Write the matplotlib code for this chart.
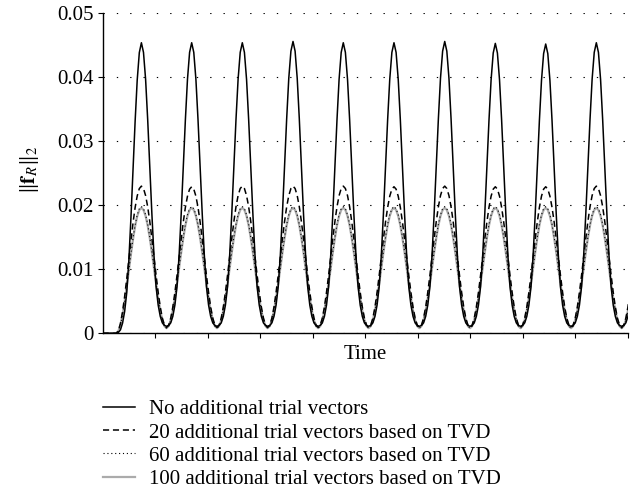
import numpy as np
import matplotlib
matplotlib.use("Agg")
import matplotlib.pyplot as plt

plt.rcParams['font.family'] = ['Liberation Serif', 'DejaVu Serif']
plt.rcParams['mathtext.fontset'] = 'stix'

# ---- data ----
series_labels = [
    "No additional trial vectors",
    "20 additional trial vectors based on TVD",
    "60 additional trial vectors based on TVD",
    "100 additional trial vectors based on TVD",
]
# times of the peaks (last one lies beyond the axis end and is clipped)
peak_times = [0.737, 1.694, 2.658, 3.623, 4.580, 5.545, 6.511, 7.474, 8.433, 9.397, 10.36]
peaks_none = [0.0454, 0.0454, 0.0454, 0.0456, 0.0454, 0.0454, 0.0456, 0.0453, 0.0452, 0.0454, 0.0454]
peaks_20 = [0.0230, 0.0229, 0.0230, 0.0230, 0.0230, 0.0229, 0.0230, 0.0229, 0.0229, 0.0230, 0.0230]
peaks_60 = [0.0198, 0.0198, 0.0198, 0.0198, 0.0198, 0.0198, 0.0198, 0.0198, 0.0198, 0.0198, 0.0198]
peaks_100 = [0.0196, 0.0196, 0.0196, 0.0196, 0.0196, 0.0196, 0.0196, 0.0196, 0.0196, 0.0196, 0.0196]
# minima before each peak (first one is the start at rest)
troughs_none = [0.0, 0.0011, 0.0011, 0.0011, 0.0011, 0.0011, 0.0011, 0.0011, 0.0011, 0.0011, 0.0011, 0.0011]
troughs_20 = [0.0, 0.0009, 0.0009, 0.0009, 0.0009, 0.0009, 0.0009, 0.0009, 0.0009, 0.0009, 0.0009, 0.0009]
troughs_60 = [0.0, 0.0008, 0.0008, 0.0008, 0.0008, 0.0008, 0.0008, 0.0008, 0.0008, 0.0008, 0.0008, 0.0008]
troughs_100 = [0.0, 0.0008, 0.0008, 0.0008, 0.0008, 0.0008, 0.0008, 0.0008, 0.0008, 0.0008, 0.0008, 0.0008]
# shape of one half cycle (0 = peak, 1 = trough)
profile_u = [0.0, 0.083, 0.167, 0.25, 0.333, 0.417, 0.5, 0.583, 0.667, 0.75, 0.833, 0.917, 1.0]
sharp_profile = [1.0, 0.966, 0.871, 0.729, 0.563, 0.396, 0.25, 0.14, 0.075, 0.035, 0.012, 0.003, 0.0]
broad_profile = [1.0, 0.983, 0.933, 0.854, 0.75, 0.629, 0.5, 0.371, 0.25, 0.146, 0.067, 0.017, 0.0]

yticks = [0, 0.01, 0.02, 0.03, 0.04, 0.05]
ytick_labels = ["0", "0.01", "0.02", "0.03", "0.04", "0.05"]
xticks = [1, 2, 3, 4, 5, 6, 7, 8, 9, 10]


def assemble(peaks, troughs, profile):
    u = np.array(profile_u)
    g = np.array(profile)
    t_all = [0.0]
    v_all = [troughs[0]]
    pt = peak_times
    for i, (tp, vp) in enumerate(zip(pt, peaks)):
        half_l = (pt[1] - pt[0]) / 2 if i == 0 else (tp - pt[i - 1]) / 2
        half_r = (pt[i + 1] - tp) / 2 if i + 1 < len(pt) else half_l
        tl = troughs[i]
        tr = troughs[i + 1]
        # left half (trough -> peak)
        t_all.extend(list(tp - u[::-1] * half_l))
        v_all.extend(list(tl + (vp - tl) * g[::-1]))
        # right half (peak -> trough)
        t_all.extend(list(tp + u[1:-1] * half_r))
        v_all.extend(list(tr + (vp - tr) * g[1:-1]))
    return np.array(t_all), np.array(v_all)


fig = plt.figure(figsize=(6.37, 4.98), dpi=100)
ax = fig.add_axes([0.1612, 0.3307, 0.8247, 0.6426])

t, v = assemble(peaks_100, troughs_100, broad_profile)
ax.plot(t, v, color='#ababab', lw=1.6, label=series_labels[3], zorder=2)
t, v = assemble(peaks_60, troughs_60, broad_profile)
ax.plot(t, v, color='black', lw=0.8, linestyle=(0, (1, 2.5)), label=series_labels[2], zorder=3)
t, v = assemble(peaks_20, troughs_20, broad_profile)
ax.plot(t, v, color='black', lw=1.1, linestyle=(0, (4, 2.5)), label=series_labels[1], zorder=4)
t, v = assemble(peaks_none, troughs_none, sharp_profile)
ax.plot(t, v, color='black', lw=1.1, label=series_labels[0], zorder=5)

ax.set_xlim(0, 10)
ax.set_ylim(0, 0.05)
ax.set_yticks(yticks)
ax.set_yticklabels(ytick_labels)
ax.set_xticks(xticks)
ax.set_xticklabels([])
ax.tick_params(axis='both', direction='out', length=3.5, width=0.8, labelsize=15, pad=3)
ax.grid(axis='y', color='black', lw=0.8, linestyle=(0, (1.2, 10.8)))
ax.set_axisbelow(True)
for s in ['top', 'right']:
    ax.spines[s].set_visible(False)
for s in ['left', 'bottom']:
    ax.spines[s].set_linewidth(1.0)

ax.set_ylabel(r'$\Vert\mathbf{f}_{R}\Vert_2$', fontsize=15)
ax.yaxis.set_label_coords(-0.117, 0.51)
ax.set_xlabel('Time', fontsize=15)
ax.xaxis.set_label_coords(0.5, -0.038)

handles, labels = ax.get_legend_handles_labels()
order = [3, 2, 1, 0]
fig.legend([handles[i] for i in order], [labels[i] for i in order],
           loc='upper left', bbox_to_anchor=(0.162, 0.197), frameon=False,
           fontsize=15, handlelength=1.55, handletextpad=0.65,
           labelspacing=0.17, borderpad=0, borderaxespad=0)

fig.savefig('out.png', dpi=100)
